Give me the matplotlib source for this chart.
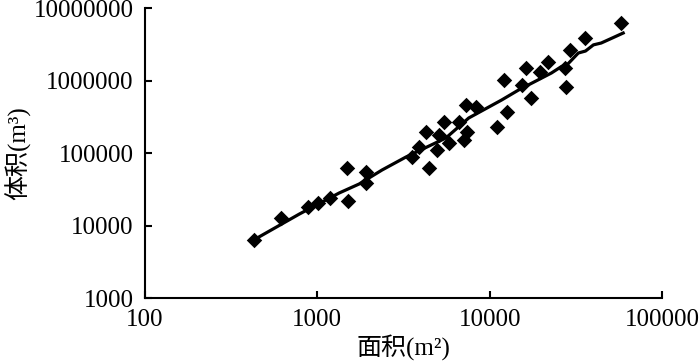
import matplotlib
matplotlib.use("Agg")
import matplotlib.pyplot as plt
from matplotlib.ticker import FixedLocator, FixedFormatter

# 实测点 (面积 m², 体积 m³)
area = [427, 619, 887, 1014, 1189, 1490, 1511, 1920, 1920, 3540,
        3890, 4265, 4440, 4940, 5070, 5420, 5790, 6620, 7080, 7270,
        7360, 8300, 12050, 12540, 10970, 15310, 16150, 17260, 19720, 21930,
        27500, 27860, 29380, 35890, 57940]
volume = [6310, 12700, 18000, 20400, 23900, 62100, 21800, 54700, 38500, 88100,
          121000, 195000, 62100, 110000, 177000, 268000, 137000, 268000, 151000, 459000,
          195000, 431000, 1016000, 368000, 228000, 867000, 1487000, 574000, 1310000, 1800000,
          1487000, 813000, 2634000, 3856000, 6210000]

# 拟合线
fit_area = [427, 787, 1340, 1750, 2375, 3270, 5570, 7560, 11730, 14720,
            22810, 26000, 28500, 32700, 36000, 40000, 44400, 52000, 59560]
fit_volume = [6310, 14400, 28100, 37400, 58300, 88100, 161000, 304000, 538000, 740000,
              1268000, 1550000, 1700000, 2395000, 2550000, 3100000, 3290000, 3900000, 4520000]

xticks = [100, 1000, 10000, 100000]
yticks = [1000, 10000, 100000, 1000000, 10000000]

num_font = "Liberation Serif"
cjk_font = ["Liberation Serif", "Noto Sans CJK SC"]

fig = plt.figure(figsize=(7, 3.64), dpi=100)
ax = fig.add_axes([0.2071, 0.1813, 0.7386, 0.7967])

ax.plot(fit_area, fit_volume, color="black", lw=2.3, zorder=2)
ax.scatter(area, volume, marker="D", s=62, color="black", zorder=3, linewidths=0)

ax.set_xscale("log")
ax.set_yscale("log")
ax.set_xlim(100, 100000)
ax.set_ylim(1000, 10000000)

ax.xaxis.set_major_locator(FixedLocator(xticks))
ax.xaxis.set_major_formatter(FixedFormatter([str(v) for v in xticks]))
ax.yaxis.set_major_locator(FixedLocator(yticks))
ax.yaxis.set_major_formatter(FixedFormatter([str(v) for v in yticks]))
ax.minorticks_off()

for s in ["top", "right"]:
    ax.spines[s].set_visible(False)
for s in ["left", "bottom"]:
    ax.spines[s].set_linewidth(1.5)

ax.tick_params(direction="in", length=5, width=1.5, labelsize=18, pad=8)
for lab in ax.get_xticklabels() + ax.get_yticklabels():
    lab.set_fontfamily(num_font)

ax.set_xlabel("面积(m²)", family=cjk_font, fontsize=18, labelpad=2)
ax.set_ylabel("体积(m³)", family=cjk_font, fontsize=18, labelpad=2)

fig.savefig("out.png", dpi=100)
